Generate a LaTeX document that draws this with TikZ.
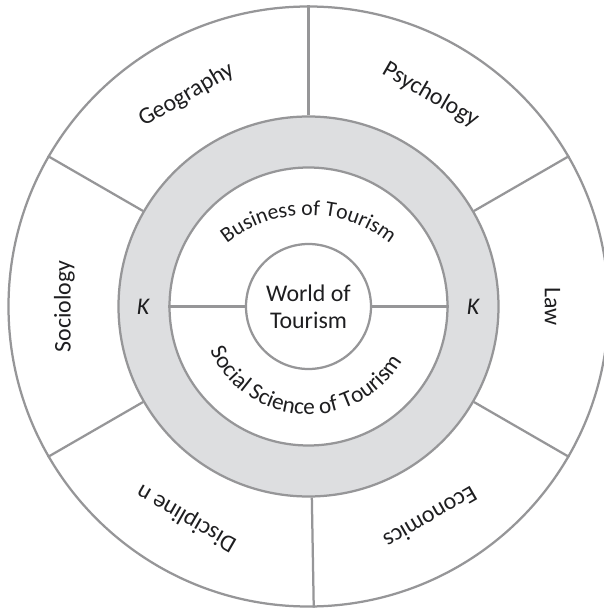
\documentclass[tikz,border=0pt]{standalone}
\usepackage{fontspec}
\setmainfont{Carlito}
\usetikzlibrary{decorations.text}
\definecolor{ringline}{RGB}{150,150,152}
\definecolor{ringfill}{RGB}{221,222,224}
\definecolor{ink}{RGB}{30,30,32}
\tikzstyle{every node}=[text=ink,font=\fontsize{17}{19.5}\selectfont]
\tikzstyle{ring}=[circle,draw=ringline,line width=1.6pt,inner sep=0pt]
\tikzstyle{spoke}=[draw=ringline,line width=1.6pt]
\tikzstyle{subject}=[inner sep=0pt]

\begin{document}
\begin{tikzpicture}
\clip (-7.7125,-7.6375) rectangle (7.3875,7.6625);
\fill[white] (-7.7125,-7.6375) rectangle (7.3875,7.6625);
%circles
\node[ring, minimum size=15cm] (disc) at (0,0) {};
\node[ring, fill=ringfill, minimum size=9.5cm] (know) at (0,0) {};
\node[ring, fill=white, minimum size=6.95cm] (tour) at (0,0) {};
\node[ring, minimum size=3.125cm, align=center] (world) at (0,0) {World of\\Tourism};
%spokes
\foreach \a in {90,30,330,271,210,150}
\draw[spoke] (know.\a) -- (disc.\a);
\draw[spoke] (world.west) -- (tour.west);
\draw[spoke] (world.east) -- (tour.east);
%subjects
\foreach \a/\t/\n in {
	120/Geography/geo,
	60/Psychology/psy,
	0/Law/law,
	-60/Economics/eco,
	-120/Discipline n/dis,
	180/Sociology/soc
}
\node[subject, rotate=\a-90] (\n) at (\a:6.1) {\t};
%K
\node[subject] (kwest) at (180:4.125) {\textit{K}};
\node[subject] (keast) at (0:4.125) {\textit{K}};
%arcs
\path[decorate, decoration={text along path, text align=center, text color=ink,
	text={|\fontsize{15.5}{18}\selectfont|Business of Tourism}}]
(0,-0.9625) ++(145:3.25) arc[start angle=145, end angle=35, radius=3.25];
\path[decorate, decoration={text along path, text align=center, text color=ink,
	text={|\fontsize{16.5}{19}\selectfont|Social Science of Tourism}}]
(192:2.7) arc[start angle=192, end angle=342, radius=2.7];
\end{tikzpicture}
\end{document}
